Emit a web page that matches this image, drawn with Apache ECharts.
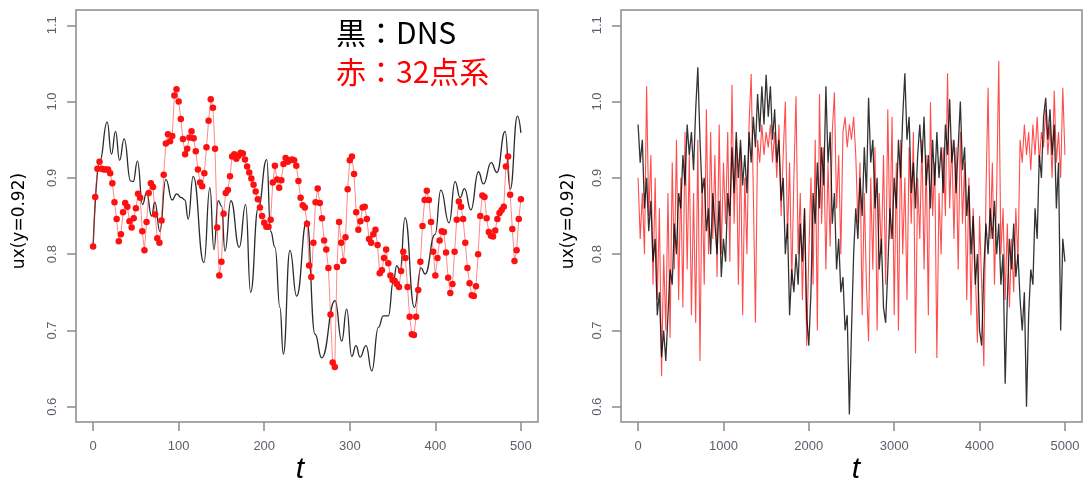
<!DOCTYPE html>
<html><head><meta charset="utf-8">
<script src="https://cdn.jsdelivr.net/npm/echarts@6/dist/echarts.min.js"></script>
<style>html,body{margin:0;padding:0;background:#fff}#c{width:1083px;height:482px}</style>
</head><body><div id="c"></div><script>
// ---- tick labels ----
const leftTicksX = [0, 100, 200, 300, 400, 500];
const rightTicksX = [0, 1000, 2000, 3000, 4000, 5000];
const yTicks = [0.6, 0.7, 0.8, 0.9, 1.0, 1.1];

// ---- left panel: DNS (black) key points, t and value ----
const leftBlackT = [0,7.8,16.4,21.5,26.2,30.9,36.3,43.8,46.8,51.9,57.8,62.5,68.3,72.2,78.0,85.0,92.4,97.6,103.4,107.3,111.1,117.0,129.5,136.5,141.2,146.2,150.2,154.1,161.1,170.8,178.3,184.1,193.0,202.9,207.5,212.6,218.4,222.3,230.1,237.9,249.7,259.4,267.2,282.8,290.6,296.4,302.3,307.3,312.0,319.0,325.7,333.4,339.3,345.1,351.0,354.9,358.8,364.6,375.5,383.4,388.0,399.7,406.4,416.1,423.1,429.0,434.0,441.5,450.4,456.2,465.3,471.9,481.6,487.5,496.0,500];
const leftBlackV = [0.81,0.922,0.973,0.931,0.961,0.923,0.951,0.896,0.895,0.922,0.865,0.881,0.850,0.868,0.830,0.898,0.871,0.879,0.874,0.871,0.846,0.902,0.789,0.887,0.806,0.870,0.863,0.804,0.870,0.809,0.865,0.750,0.861,0.924,0.830,0.809,0.730,0.669,0.805,0.745,0.844,0.695,0.664,0.739,0.686,0.728,0.666,0.680,0.665,0.680,0.647,0.704,0.719,0.719,0.765,0.785,0.778,0.848,0.730,0.782,0.774,0.826,0.884,0.841,0.895,0.874,0.886,0.858,0.908,0.892,0.920,0.907,0.961,0.885,0.981,0.959];

// ---- left panel: 32-point system (red), one value every 2.5 time units from t=0 ----
const leftRedStep = 2.5;
const leftRedV = [
0.810,0.875,0.912,0.921,0.912,0.911,0.911,0.911,0.906,0.893,
0.868,0.846,0.817,0.826,0.855,0.867,0.862,0.843,0.835,0.847,
0.860,0.879,0.874,0.830,0.805,0.842,0.880,0.893,0.888,0.852,
0.821,0.815,0.844,0.904,0.945,0.957,0.948,0.955,1.008,1.016,
1.000,0.977,0.951,0.931,0.938,0.953,0.961,0.952,0.935,0.911,
0.894,0.889,0.906,0.940,0.975,1.003,0.992,0.938,0.835,0.772,
0.790,0.853,0.880,0.884,0.902,0.928,0.931,0.925,0.929,0.933,
0.932,0.924,0.915,0.907,0.899,0.891,0.882,0.872,0.861,0.850,
0.841,0.836,0.836,0.845,0.894,0.916,0.898,0.887,0.897,0.918,
0.926,0.921,0.923,0.924,0.923,0.916,0.896,0.874,0.864,0.861,
0.840,0.785,0.770,0.815,0.868,0.886,0.867,0.847,0.818,0.806,
0.782,0.721,0.658,0.652,0.783,0.842,0.815,0.791,0.822,0.885,
0.923,0.928,0.905,0.855,0.832,0.843,0.861,0.862,0.846,0.820,
0.815,0.826,0.832,0.812,0.775,0.779,0.795,0.806,0.788,0.772,
0.766,0.765,0.761,0.757,0.778,0.803,0.795,0.757,0.718,0.695,
0.694,0.718,0.753,0.790,0.837,0.871,0.883,0.871,0.842,0.803,
0.772,0.795,0.818,0.830,0.829,0.802,0.769,0.749,0.761,0.803,
0.845,0.869,0.862,0.846,0.815,0.782,0.762,0.746,0.745,0.758,
0.800,0.850,0.877,0.875,0.847,0.829,0.824,0.823,0.831,0.846,
0.854,0.858,0.862,0.915,0.928,0.878,0.833,0.791,0.805,0.846,
0.872];

// ---- right panel: one value every 25 time units from t=0 ----
const rightStep = 25;
const rightBlackV = [
0.97,0.92,0.95,0.86,0.90,0.83,0.87,0.79,0.82,0.72,
0.75,0.665,0.70,0.66,0.72,0.78,0.76,0.84,0.80,0.88,
0.86,0.93,0.89,0.97,0.93,0.96,0.91,0.99,1.045,0.95,
0.88,0.90,0.83,0.86,0.80,0.88,0.84,0.80,0.87,0.77,
0.82,0.79,0.88,0.85,0.94,0.88,0.96,0.90,0.95,0.89,
0.93,0.88,0.96,0.92,0.98,0.94,1.01,0.96,1.02,0.97,
1.035,0.98,1.02,0.95,0.99,0.92,0.95,0.87,0.90,0.80,
0.84,0.72,0.78,0.75,0.80,0.76,0.84,0.79,0.86,0.72,
0.68,0.75,0.88,0.84,0.92,0.86,0.94,0.89,1.02,0.92,
0.96,0.84,0.88,0.78,0.82,0.75,0.77,0.70,0.72,0.59,
0.70,0.80,0.86,0.82,0.90,0.85,0.94,0.88,1.005,0.92,
0.95,0.86,0.90,0.78,0.82,0.73,0.71,0.78,0.86,0.82,
0.90,0.86,0.95,0.90,0.98,1.037,0.95,0.98,0.88,0.92,
0.86,0.93,0.97,0.92,0.98,0.89,0.93,0.86,0.95,0.89,
0.96,0.90,0.94,0.88,0.97,0.93,1.003,0.92,0.95,0.88,
0.94,1.00,0.91,0.94,0.85,0.89,0.80,0.85,0.76,0.80,
0.70,0.68,0.78,0.84,0.80,0.86,0.82,0.87,0.80,0.84,
0.76,0.80,0.63,0.74,0.82,0.78,0.84,0.77,0.80,0.74,
0.70,0.75,0.60,0.72,0.78,0.76,0.86,0.82,0.93,0.90,
0.98,1.005,0.95,0.99,0.93,0.97,0.86,0.92,0.70,0.82,
0.79];
const rightRedV = [
0.90,0.82,0.88,0.80,1.02,0.85,0.93,0.76,0.90,0.74,
0.86,0.64,0.80,0.70,0.88,0.69,0.92,0.78,0.95,0.74,
0.90,0.73,0.96,0.78,0.93,0.72,0.88,0.71,0.95,0.66,
0.90,0.76,0.99,0.80,0.96,0.82,0.93,0.77,0.97,0.80,
0.92,0.84,0.96,0.79,1.022,0.84,0.95,0.76,0.94,0.72,
0.90,0.80,0.97,1.036,0.88,0.71,0.95,0.92,0.97,0.93,
0.96,0.94,0.97,0.92,0.96,0.90,0.97,0.85,0.93,1.00,
0.82,0.92,0.76,0.90,1.007,0.80,0.88,0.74,0.86,0.68,
0.80,0.90,0.76,0.95,0.70,1.01,0.84,0.94,0.78,0.92,
0.81,0.96,1.012,0.86,0.93,0.80,0.96,0.98,0.94,0.97,
0.95,0.98,0.93,0.84,0.92,0.72,0.88,0.76,0.686,0.90,
0.78,0.94,0.70,0.88,0.80,0.93,0.76,0.99,0.82,0.98,
0.72,0.92,0.70,0.95,0.80,0.90,0.74,0.94,0.84,0.96,
0.67,0.90,0.82,0.95,0.78,0.93,0.72,0.999,0.85,0.92,
0.664,0.88,0.80,0.94,0.85,1.037,0.86,0.95,0.82,0.94,
0.78,0.96,0.84,0.92,0.74,0.90,0.72,0.86,0.78,0.684,
0.85,0.76,0.653,0.88,1.018,0.82,0.92,0.76,0.88,1.053,
0.80,0.86,0.74,0.84,0.73,0.82,0.75,0.86,0.79,0.95,
0.92,0.97,0.93,0.96,0.91,0.97,0.93,0.98,0.92,0.96,
0.94,0.99,0.93,0.97,0.90,1.014,0.92,0.96,0.90,1.018,
0.93];

// ---- build pairs ----
const pairsKT = (ts, vs) => ts.map((t, i) => [t, vs[i]]);
const pairsStep = (vs, step) => vs.map((v, i) => [i * step, v]);

const axisGray = '#8a8a8a';
const labelColor = '#5a606a';
function xAxisCfg(gi, min, max, ticks) {
  return {
    type: 'value', gridIndex: gi, min: min, max: max, position: 'bottom',
    axisLine: { show: false, onZero: false }, splitLine: { show: false },
    axisTick: { show: true, inside: false, length: 9, lineStyle: { color: axisGray, width: 1.5 }, customValues: ticks },
    axisLabel: { customValues: ticks, margin: 18, color: labelColor, fontSize: 13, fontFamily: 'Liberation Sans',
      formatter: v => String(v) }
  };
}
function yAxisCfg(gi) {
  return {
    type: 'value', gridIndex: gi, min: 0.58, max: 1.12, position: 'left',
    axisLine: { show: false, onZero: false }, splitLine: { show: false },
    axisTick: { show: true, inside: false, length: 9, lineStyle: { color: axisGray, width: 1.5 }, customValues: yTicks },
    axisLabel: { customValues: yTicks, margin: 17, rotate: 90, color: labelColor, fontSize: 13,
      fontFamily: 'Liberation Sans', formatter: v => v.toFixed(1) }
  };
}

const chart = echarts.init(document.getElementById('c'), null, { renderer: 'canvas' });
chart.setOption({
  animation: false,
  backgroundColor: '#ffffff',
  grid: [
    { left: 76, top: 10, width: 462, height: 412, show: true, borderColor: axisGray, borderWidth: 1.5, backgroundColor: 'transparent' },
    { left: 621, top: 10, width: 461, height: 412, show: true, borderColor: axisGray, borderWidth: 1.5, backgroundColor: 'transparent' }
  ],
  xAxis: [xAxisCfg(0, -20, 520, leftTicksX), xAxisCfg(1, -200, 5200, rightTicksX)],
  yAxis: [yAxisCfg(0), yAxisCfg(1)],
  series: [
    { type: 'line', xAxisIndex: 0, yAxisIndex: 0, data: pairsKT(leftBlackT, leftBlackV),
      smooth: 0.5, smoothMonotone: 'x', symbol: 'none',
      lineStyle: { color: '#2b2b2b', width: 1.3 } },
    { type: 'line', xAxisIndex: 0, yAxisIndex: 0, data: pairsStep(leftRedV, leftRedStep),
      symbol: 'circle', symbolSize: 6.5, itemStyle: { color: '#ff1010' },
      lineStyle: { color: 'rgba(255,40,40,0.55)', width: 1 } },
    { type: 'line', xAxisIndex: 1, yAxisIndex: 1, data: pairsStep(rightRedV, rightStep),
      symbol: 'none', sampling: null,
      lineStyle: { color: 'rgba(255,0,0,0.7)', width: 1.1 } },
    { type: 'line', xAxisIndex: 1, yAxisIndex: 1, data: pairsStep(rightBlackV, rightStep),
      symbol: 'none', sampling: null,
      lineStyle: { color: 'rgba(0,0,0,0.8)', width: 1.3 } }
  ],
  graphic: [
    { type: 'text', x: 20, y: 221, rotation: Math.PI / 2,
      style: { text: 'ux(y=0.92)', fill: '#000', fontSize: 17, fontFamily: 'DejaVu Sans', align: 'center', verticalAlign: 'middle' } },
    { type: 'text', x: 569, y: 221, rotation: Math.PI / 2,
      style: { text: 'ux(y=0.92)', fill: '#000', fontSize: 17, fontFamily: 'DejaVu Sans', align: 'center', verticalAlign: 'middle' } },
    { type: 'text', x: 300, y: 470,
      style: { text: 't', fill: '#000', fontSize: 30, fontStyle: 'italic', fontFamily: 'Liberation Sans', align: 'center', verticalAlign: 'middle' } },
    { type: 'text', x: 856, y: 470,
      style: { text: 't', fill: '#000', fontSize: 30, fontStyle: 'italic', fontFamily: 'Liberation Sans', align: 'center', verticalAlign: 'middle' } },
    { type: 'text', x: 336, y: 33,
      style: { text: '黒：DNS', fill: '#000', fontSize: 30, fontFamily: 'Noto Sans CJK JP', align: 'left', verticalAlign: 'middle' } },
    { type: 'text', x: 336, y: 72,
      style: { text: '赤：32点系', fill: '#ff0000', fontSize: 30, fontFamily: 'Noto Sans CJK JP', align: 'left', verticalAlign: 'middle' } }
  ]
});
</script></body></html>
